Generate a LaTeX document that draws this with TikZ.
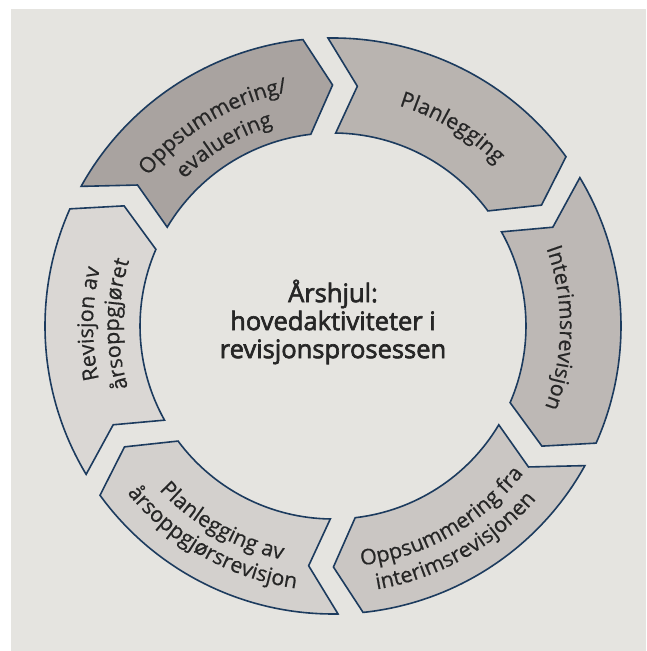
\documentclass[tikz,border=0pt]{standalone}
\usepackage{fontspec}
\setmainfont{Open Sans}
\newfontface\centerfnt{Open Sans}[FakeBold=2.5]
\newfontface\labelfnt{Open Sans}[FakeBold=0.6]
\usetikzlibrary{decorations.text}
\definecolor{bgc}{HTML}{E5E4E0}
\definecolor{edgec}{HTML}{1C3B5E}
\definecolor{txtc}{HTML}{262626}
\definecolor{cA}{HTML}{B9B4B0}
\definecolor{cB}{HTML}{BDB8B5}
\definecolor{cC}{HTML}{CAC6C3}
\definecolor{cD}{HTML}{D3D0CD}
\definecolor{cE}{HTML}{DAD7D4}
\definecolor{cF}{HTML}{A9A3A0}
\newcommand\lblfnt{\labelfnt\fontsize{21.5}{26}\selectfont}
\tikzset{
  segbox/.style={draw=edgec, line width=1.6pt, line join=miter},
  lbl/.style={decorate, decoration={text along path, text align=center, text={|\lblfnt\color{txtc}|#1}}}
}
\begin{document}
\begin{tikzpicture}[x=1pt,y=1pt]
\useasboundingbox (0,0) rectangle (646,651);
\fill[white] (0,0) rectangle (646,651);
\fill[bgc] (11,0) rectangle (646,642);
\begin{scope}[shift={(333,325)}]
\foreach \k/\col in {0/cA,1/cB,2/cC,3/cD,4/cE,5/cF}{
  \pgfmathsetmacro\a{91-60*\k}
  \pgfmathsetmacro\ah{\a-55}
  \pgfmathsetmacro\ap{\a-60.9}
  \pgfmathsetmacro\ai{\a-54.4}
  \pgfmathsetmacro\at{\a-1.8}
  \pgfmathsetmacro\an{\a-6.8}
  \draw[segbox, fill=\col] (\a:288) arc[start angle=\a, end angle=\ah, radius=288]
     -- (\ap:241) -- (\ai:193) arc[start angle=\ai, end angle=\at, radius=193]
     -- (\an:241) -- cycle;
}
% labels (clockwise paths: tops outward)
\path[lbl={Planlegging}] (94:230) arc[start angle=94, end angle=24, radius=230];
\path[lbl={Interimsrevisjon}] (34.5:227) arc[start angle=34.5, end angle=-35.5, radius=227];
\path[lbl={Oppsummering/}] (161:238) arc[start angle=161, end angle=81, radius=238];
\path[lbl={evaluering}] (161:209) arc[start angle=161, end angle=81, radius=209];
\path[lbl={Revisjon av}] (219.5:240) arc[start angle=219.5, end angle=139.5, radius=240];
\path[lbl={årsoppgjøret}] (219.5:214) arc[start angle=219.5, end angle=139.5, radius=214];
% labels (counter-clockwise paths: tops inward)
\path[lbl={Oppsummering fra}] (-100.5:241) arc[start angle=-100.5, end angle=-20.5, radius=241];
\path[lbl={interimsrevisjonen}] (-100.5:267) arc[start angle=-100.5, end angle=-20.5, radius=267];
\path[lbl={Planlegging av}] (-159.5:239) arc[start angle=-159.5, end angle=-79.5, radius=239];
\path[lbl={årsoppgjørsrevisjon}] (-159.5:265) arc[start angle=-159.5, end angle=-79.5, radius=265];
\end{scope}
\node[align=center, text=txtc, font=\centerfnt\fontsize{25.5}{28}\selectfont] (ctr) at (333,329)
  {Årshjul:\\hovedaktiviteter i\\revisjonsprosessen};
\end{tikzpicture}
\end{document}
